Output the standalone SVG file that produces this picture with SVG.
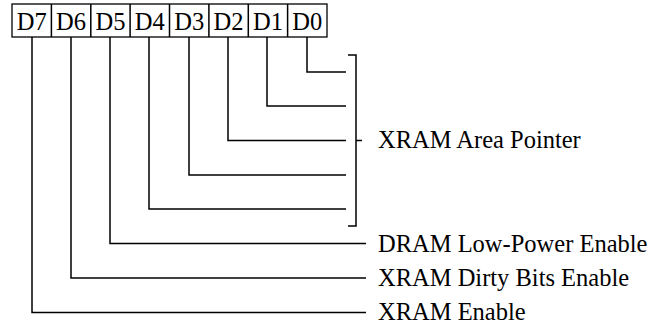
<svg xmlns="http://www.w3.org/2000/svg" width="663" height="325" viewBox="0 0 663 325">
<style>
.t{font-size:24.5px;fill:#000}
.c{font-size:24.5px;fill:#000;text-anchor:middle}
.b{fill:#fff;stroke:#000;stroke-width:1.3}
.w{fill:none;stroke:#000;stroke-width:1.5}
</style>
<rect width="663" height="325" fill="#fff"/>
<g id="register" font-family="'Liberation Serif', 'Times New Roman', Times, serif">
<rect class="b" x="12" y="4" width="315" height="33"/>
<path class="w" d="M51.4 4V37M90.8 4V37M130.1 4V37M169.5 4V37M208.9 4V37M248.3 4V37M287.6 4V37" stroke-width="1.3"/>
<text class="c" x="31.7" y="30">D7</text>
<text class="c" x="71.1" y="30">D6</text>
<text class="c" x="110.5" y="30">D5</text>
<text class="c" x="149.8" y="30">D4</text>
<text class="c" x="189.2" y="30">D3</text>
<text class="c" x="228.6" y="30">D2</text>
<text class="c" x="268" y="30">D1</text>
<text class="c" x="307.3" y="30">D0</text>
</g>
<g id="connectors">
<path class="w" d="M307 37V72H346"/>
<path class="w" d="M267 37V106H346"/>
<path class="w" d="M228 37V140.5H346"/>
<path class="w" d="M189 37V175H346"/>
<path class="w" d="M149 37V209H346"/>
<path class="w" d="M110 37V243.5H366"/>
<path class="w" d="M71 37V278H366"/>
<path class="w" d="M32 37V312.5H366"/>
</g>
<g id="bracket">
<path class="w" d="M348 55H356V226H348M356 140.5H362"/>
</g>
<g id="labels" font-family="'Liberation Serif', 'Times New Roman', Times, serif">
<text class="t" x="378" y="147.5">XRAM Area Pointer</text>
<text class="t" x="378" y="251.5">DRAM Low-Power Enable</text>
<text class="t" x="378" y="286">XRAM Dirty Bits Enable</text>
<text class="t" x="378" y="320">XRAM Enable</text>
</g>
</svg>
